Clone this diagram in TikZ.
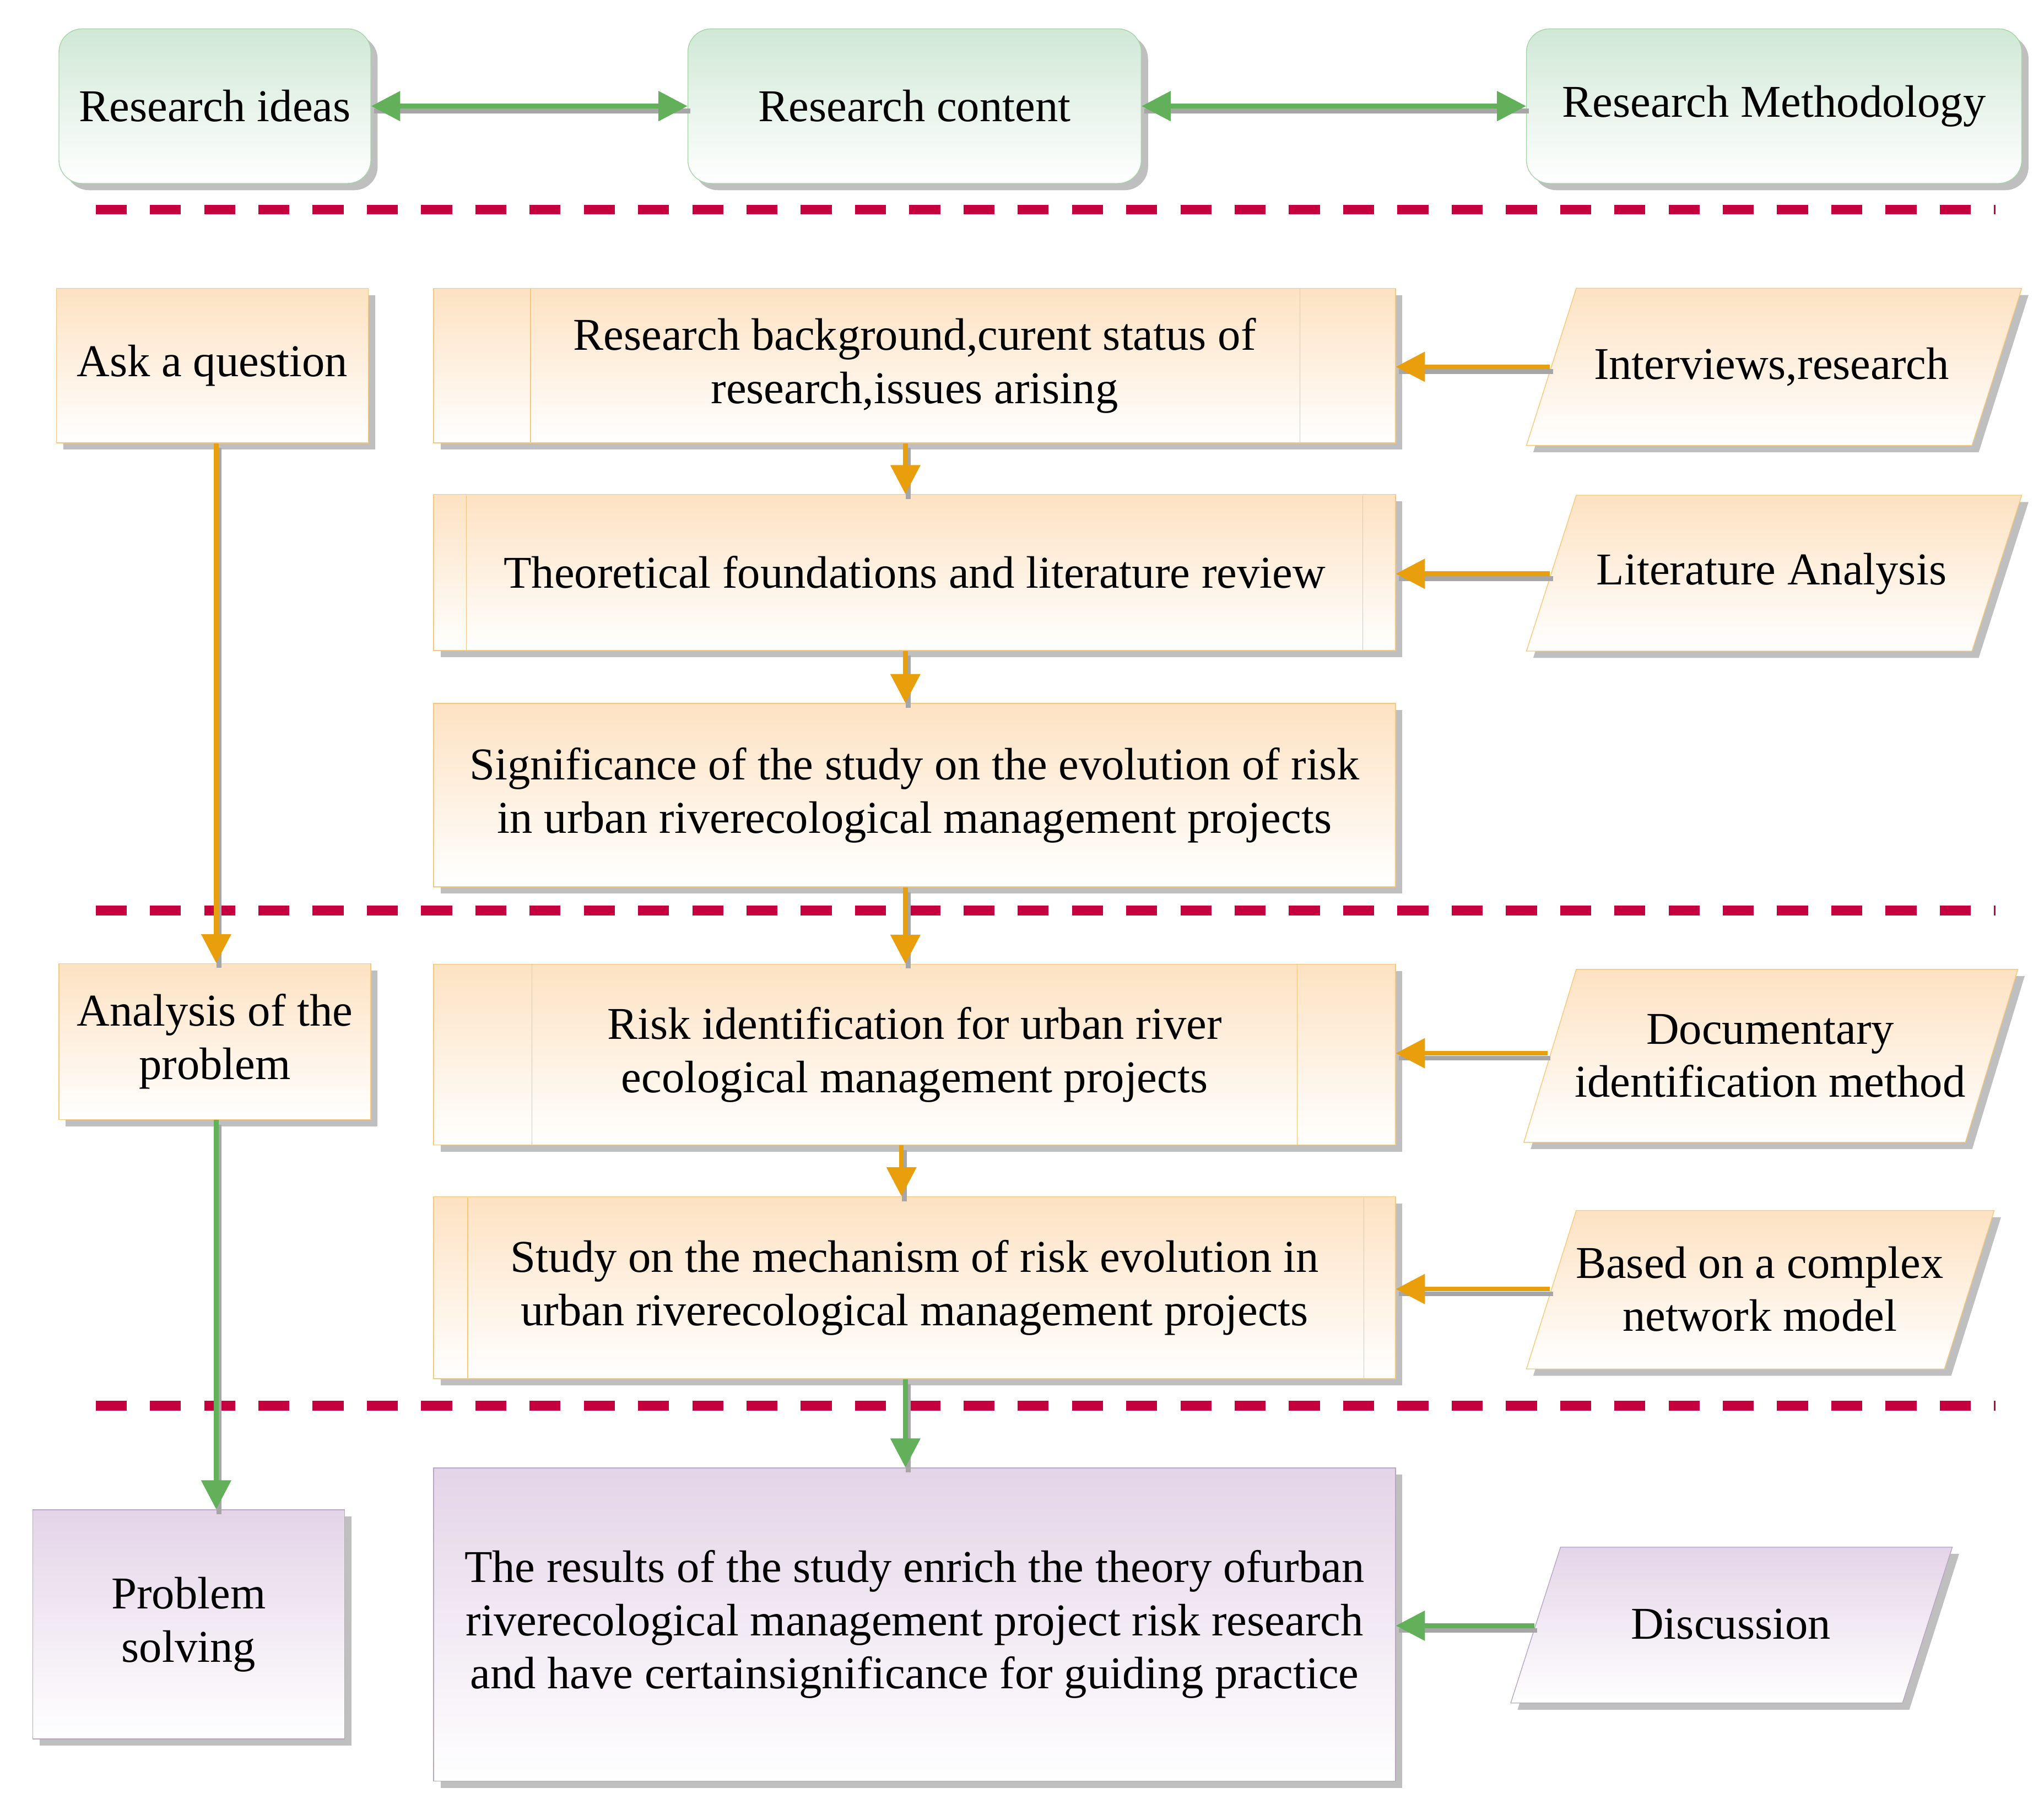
\documentclass[tikz,border=0pt]{standalone}
\usepackage{fontspec}
\setmainfont{Liberation Serif}
\usetikzlibrary{shadows,arrows.meta,calc}
\definecolor{gr}{HTML}{62B05A}
\definecolor{grfill}{HTML}{D0E8D6}
\definecolor{grline}{HTML}{A8D5A8}
\definecolor{og}{HTML}{E99E0C}
\definecolor{ogfill}{HTML}{FDE2C2}
\definecolor{ogline}{HTML}{F8C878}
\definecolor{pu}{HTML}{E4D4E8}
\definecolor{puline}{HTML}{B9A6C4}
\definecolor{cr}{HTML}{C4003F}
\begin{document}
\begin{tikzpicture}[x=0.02378cm,y=-0.02378cm,
  every node/.style={font=\fontsize{23.5}{27.5}\selectfont, align=center, inner sep=0pt},
  sh/.style={drop shadow={shadow xshift=3.5pt,shadow yshift=-3.5pt,fill=black!25,opacity=1}},
  gbox/.style={sh,rounded corners=12pt,draw=grline,top color=grfill,bottom color=white},
  obox/.style={sh,draw=ogline,top color=ogfill,bottom color=white},
  pbox/.style={sh,draw=puline,top color=pu,bottom color=white},
  opara/.style={sh,draw=ogline,top color=ogfill,bottom color=white},
  ppara/.style={sh,draw=puline,top color=pu,bottom color=white},
  arr/.style={line width=2.4pt,-{Triangle[length=15pt,width=15pt]},preaction={draw=black!35,line width=2.4pt,-,transform canvas={shift={(1.5pt,-2.5pt)}}}},
  darr/.style={arr,{Triangle[length=15pt,width=15pt]}-{Triangle[length=15pt,width=15pt]}},
  dsh/.style={draw=cr,line width=5pt,dash pattern=on 16pt off 12pt}]
\useasboundingbox (0,0) rectangle (1560,1373);
% top row
\node[gbox,minimum width=238*0.02378cm,minimum height=118*0.02378cm] (ri) at (164,81) {Research ideas};
\node[gbox,minimum width=346*0.02378cm,minimum height=118*0.02378cm] (rc) at (698,81) {Research content};
\node[gbox,minimum width=378*0.02378cm,minimum height=118*0.02378cm] (rm) at (1354,81) {Research Methodology};
\draw[darr,draw=gr,gr] (ri) -- (rc);
\draw[darr,draw=gr,gr] (rc) -- (rm);
% dashed lines
\draw[dsh] (73,160) -- (1523,160);
\draw[dsh] (73,695) -- (1523,695);
\draw[dsh] (73,1073) -- (1523,1073);
% left column
\node[obox,minimum width=238*0.02378cm,minimum height=118*0.02378cm] (aq) at (162,279) {Ask a question};
\node[obox,minimum width=238*0.02378cm,minimum height=119*0.02378cm] (ap) at (164,795) {Analysis of the\\problem};
\node[pbox,minimum width=238*0.02378cm,minimum height=175*0.02378cm] (ps) at (144,1240) {Problem\\solving};
% center
\node[obox,minimum width=734*0.02378cm,minimum height=118*0.02378cm] (b1) at (698,279) {Research background,curent status of\\research,issues arising};
\node[obox,minimum width=734*0.02378cm,minimum height=119*0.02378cm] (b2) at (698,437) {Theoretical foundations and literature review};
\node[obox,minimum width=734*0.02378cm,minimum height=140*0.02378cm] (b3) at (698,607) {Significance of the study on the evolution of risk\\in urban riverecological management projects};
\node[obox,minimum width=734*0.02378cm,minimum height=138*0.02378cm] (b4) at (698,805) {Risk identification for urban river\\ecological management projects};
\node[obox,minimum width=734*0.02378cm,minimum height=139*0.02378cm] (b5) at (698,983) {Study on the mechanism of risk evolution in\\urban riverecological management projects};
\node[pbox,minimum width=734*0.02378cm,minimum height=239*0.02378cm] (b6) at (698,1240) {The results of the study enrich the theory ofurban\\riverecological management project risk research\\and have certainsignificance for guiding practice};
% inner process lines
\draw[ogline,line width=0.4pt] (405,220) -- (405,338) (992,220) -- (992,338);
\draw[ogline,line width=0.4pt] (356,378) -- (356,497) (1040,378) -- (1040,497);
\draw[ogline,line width=0.4pt] (406,736) -- (406,874) (990,736) -- (990,874);
\draw[ogline,line width=0.4pt] (357,914) -- (357,1053) (1041,914) -- (1041,1053);
% parallelograms
\path[opara] (1165,340) -- (1203,220) -- (1543,220) -- (1505,340) -- cycle;
\path[opara] (1165,497) -- (1203,378) -- (1543,378) -- (1505,497) -- cycle;
\path[opara] (1163,872) -- (1203,740) -- (1540,740) -- (1500,872) -- cycle;
\path[opara] (1165,1045) -- (1203,924) -- (1522,924) -- (1484,1045) -- cycle;
\path[ppara] (1153,1300) -- (1191,1181) -- (1490,1181) -- (1452,1300) -- cycle;
\node (p1) at (1352,280) {Interviews,research};
\node (p2) at (1352,438) {Literature Analysis};
\node (p3) at (1351,806) {Documentary\\identification method};
\node (p4) at (1343,984) {Based on a complex\\network model};
\node (p5) at (1321,1240) {Discussion};
% horizontal arrows
\draw[arr,draw=og,og] (1183,280) coordinate (s1) -- (b1.east|-s1);
\draw[arr,draw=og,og] (1183,438) coordinate (s2) -- (b2.east|-s2);
\draw[arr,draw=og,og] (1181,804) coordinate (s3) -- (b4.east|-s3);
\draw[arr,draw=og,og] (1183,984) coordinate (s4) -- (b5.east|-s4);
\draw[arr,draw=gr,gr] (1171,1241) coordinate (s5) -- (b6.east|-s5);
% vertical arrows
\draw[arr,draw=og,og] (b1.south-|691,0) -- (b2.north-|691,0);
\draw[arr,draw=og,og] (b2.south-|691,0) -- (b3.north-|691,0);
\draw[arr,draw=og,og] (b3.south-|691,0) -- (b4.north-|691,0);
\draw[arr,draw=og,og] (b4.south-|688,0) -- (b5.north-|688,0);
\draw[arr,draw=gr,gr] (b5.south-|691,0) -- (b6.north-|691,0);
\draw[arr,draw=og,og] (aq.south-|165,0) -- (ap.north-|165,0);
\draw[arr,draw=gr,gr] (ap.south-|165,0) -- (ps.north-|165,0);
\end{tikzpicture}
\end{document}
